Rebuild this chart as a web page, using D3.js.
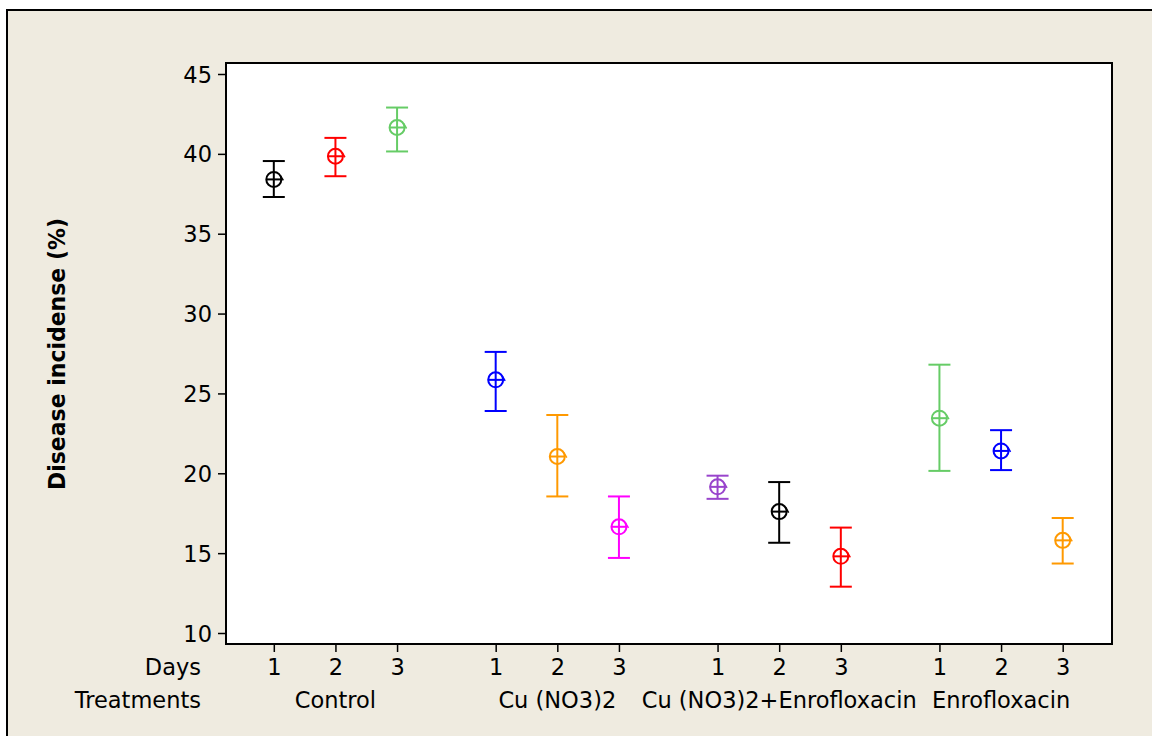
<!DOCTYPE html>
<html>
<head>
<meta charset="utf-8">
<script src="https://cdn.jsdelivr.net/npm/d3@7"></script>
<style>
  body { margin: 0; background: #fff; }
  text { font-family: "DejaVu Sans", Verdana, sans-serif; fill: #000; }
</style>
</head>
<body>
<div id="chart"></div>
<script>
// data
const treatments = ["Control", "Cu (NO3)2", "Cu (NO3)2+Enrofloxacin", "Enrofloxacin"];
const days = [1, 2, 3];
const means = [
    [38.4, 39.85, 41.65],
    [25.85, 21.05, 16.65],
    [19.15, 17.6, 14.8],
    [23.45, 21.4, 15.8]
];
const lows = [
    [37.3, 38.6, 40.15],
    [23.9, 18.55, 14.7],
    [18.4, 15.65, 12.9],
    [20.15, 20.2, 14.35]
];
const highs = [
    [39.55, 41.0, 42.9],
    [27.6, 23.65, 18.55],
    [19.85, 19.45, 16.6],
    [26.8, 22.7, 17.2]
];
const colors = [
    ["#000000", "#ff0000", "#66cc66"],
    ["#0000ff", "#ff9900", "#ff00ff"],
    ["#9944cc", "#000000", "#ff0000"],
    ["#66cc66", "#0000ff", "#ff9900"]
];
const yTicks = [10, 15, 20, 25, 30, 35, 40, 45];

const W = 1152, H = 736;
const frame = { left: 226, right: 1112, top: 63, bottom: 644 };

const svg = d3.select("#chart")
    .append("svg")
    .attr("width", W)
    .attr("height", H);

// beige panel with black border
svg.append("rect")
    .attr("x", 7).attr("y", 10)
    .attr("width", W + 20).attr("height", H + 20)
    .attr("fill", "#efebe0")
    .attr("stroke", "#000")
    .attr("stroke-width", 2);

const y = d3.scaleLinear()
    .domain([10, 45])
    .range([633, 74]);

const xGroup = d3.scaleBand()
    .domain(treatments)
    .range([frame.left - 1.5, frame.right])
    .padding(0);

const xDay = d3.scalePoint()
    .domain(days)
    .range([0, xGroup.bandwidth()])
    .padding(0.8);

// white plot area
svg.append("rect")
    .attr("x", frame.left).attr("y", frame.top)
    .attr("width", frame.right - frame.left)
    .attr("height", frame.bottom - frame.top)
    .attr("fill", "#fff")
    .attr("stroke", "#000")
    .attr("stroke-width", 2);

// y axis
const yAxis = svg.append("g")
    .attr("transform", `translate(${frame.left - 1},0)`)
    .call(d3.axisLeft(y).tickValues(yTicks).tickSize(7).tickPadding(6));
yAxis.select(".domain").remove();
yAxis.selectAll(".tick line").attr("stroke", "#000").attr("stroke-width", 1.5);
yAxis.selectAll(".tick text").style("font-size", "22.5px").attr("dy", "0.36em");

// x ticks + day labels, one axis per treatment group
treatments.forEach(t => {
    const g = svg.append("g")
        .attr("transform", `translate(${xGroup(t)},${frame.bottom + 1})`)
        .call(d3.axisBottom(xDay).tickSize(7).tickPadding(7));
    g.select(".domain").remove();
    g.selectAll(".tick line").attr("stroke", "#000").attr("stroke-width", 1.5);
    g.selectAll(".tick text").style("font-size", "22.5px");
});

// treatment labels
svg.append("g")
    .selectAll("text")
    .data(treatments)
    .enter().append("text")
    .attr("x", d => xGroup(d) + xGroup.bandwidth() / 2)
    .attr("y", 708)
    .attr("text-anchor", "middle")
    .style("font-size", "22.5px")
    .text(d => d);

svg.append("text")
    .attr("x", 201).attr("y", 675)
    .attr("text-anchor", "end")
    .style("font-size", "22.5px")
    .text("Days");
svg.append("text")
    .attr("x", 201).attr("y", 708)
    .attr("text-anchor", "end")
    .style("font-size", "22.5px")
    .text("Treatments");

// y axis title
svg.append("text")
    .attr("transform", "translate(65,354) rotate(-90)")
    .attr("text-anchor", "middle")
    .attr("textLength", 272)
    .attr("lengthAdjust", "spacingAndGlyphs")
    .style("font-size", "22.5px")
    .style("font-weight", "bold")
    .text("Disease incidense (%)");

// build point records
const points = [];
treatments.forEach((t, i) => {
    days.forEach((d, j) => {
        points.push({ t: t, day: d, mean: means[i][j], lo: lows[i][j], hi: highs[i][j], color: colors[i][j] });
    });
});

const cap = 11, r = 7.5;
const marks = svg.append("g")
    .selectAll("g")
    .data(points)
    .enter().append("g")
    .attr("transform", d => `translate(${xGroup(d.t) + xDay(d.day)},0)`)
    .attr("stroke", d => d.color)
    .attr("stroke-width", 2)
    .attr("fill", "none");

marks.append("line")
    .attr("x1", 0).attr("x2", 0)
    .attr("y1", d => y(d.hi)).attr("y2", d => y(d.lo));
marks.append("line")
    .attr("x1", -cap).attr("x2", cap)
    .attr("y1", d => y(d.hi)).attr("y2", d => y(d.hi));
marks.append("line")
    .attr("x1", -cap).attr("x2", cap)
    .attr("y1", d => y(d.lo)).attr("y2", d => y(d.lo));
marks.append("circle")
    .attr("cx", 0).attr("cy", d => y(d.mean))
    .attr("r", r);
marks.append("line")
    .attr("x1", -r).attr("x2", r)
    .attr("y1", d => y(d.mean)).attr("y2", d => y(d.mean));
marks.append("path")
    .attr("stroke-width", 1.5)
    .attr("d", d => `M${r - 1},${y(d.mean) - 4}L${r + 2},${y(d.mean) + 1}`);
</script>
</body>
</html>
